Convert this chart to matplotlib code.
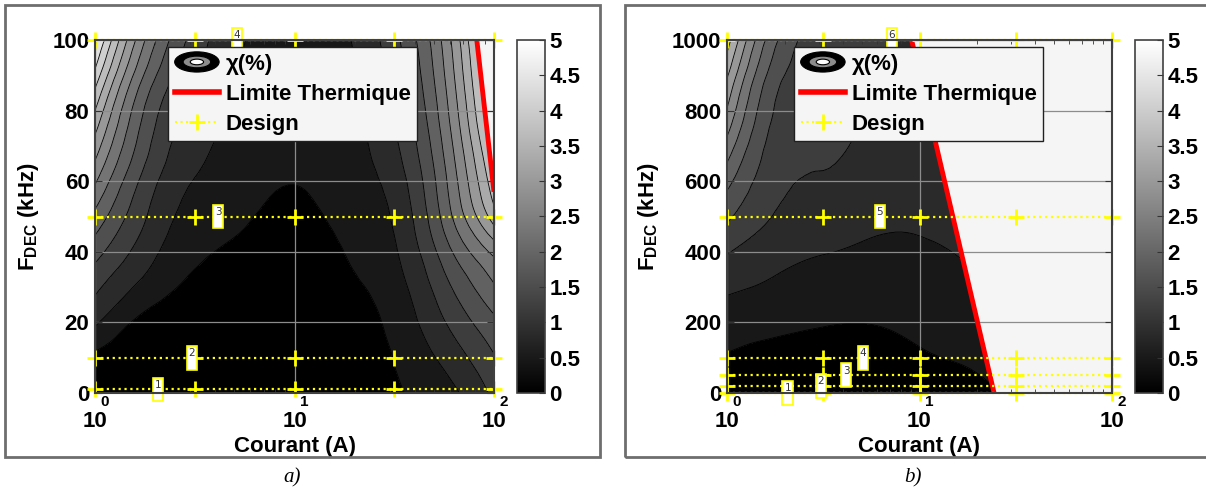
import numpy as np
import matplotlib
matplotlib.use('Agg')
import matplotlib.pyplot as plt
from matplotlib.tri import Triangulation, UniformTriRefiner
from matplotlib.patches import Ellipse, Patch, Rectangle
from matplotlib.lines import Line2D
from matplotlib.legend_handler import HandlerBase
from matplotlib.colors import Normalize
from matplotlib.cm import ScalarMappable
from matplotlib.ticker import LogLocator, NullFormatter

plt.rcParams['font.family'] = ['Liberation Sans', 'DejaVu Sans']
plt.rcParams['mathtext.fontset'] = 'custom'
plt.rcParams['mathtext.rm'] = 'Liberation Sans:bold'
plt.rcParams['mathtext.bf'] = 'Liberation Sans:bold'
plt.rcParams['mathtext.it'] = 'Liberation Sans:bold'

# ---------------- data ----------------
currents = [1, 1.78, 3.16, 5.62, 10, 17.8, 31.6, 56.2, 100]

freq_a = [0, 10, 20, 30, 40, 50, 60, 70, 80, 90, 100]
chi_a = [
    [0.00, 0.00, 0.00, 0.00, 0.00, 0.10, 0.32, 0.57, 1.15],
    [0.28, 0.05, 0.00, 0.00, 0.00, 0.05, 0.37, 0.80, 1.40],
    [0.77, 0.25, 0.10, 0.00, 0.00, 0.15, 0.46, 1.05, 1.70],
    [1.15, 0.60, 0.27, 0.08, 0.05, 0.27, 0.56, 1.30, 2.10],
    [1.57, 0.88, 0.43, 0.25, 0.12, 0.36, 0.67, 1.60, 2.60],
    [2.04, 1.10, 0.57, 0.40, 0.25, 0.45, 0.76, 1.90, 3.40],
    [2.55, 1.30, 0.70, 0.50, 0.37, 0.52, 0.87, 2.05, 3.80],
    [3.06, 1.55, 0.82, 0.57, 0.46, 0.57, 1.00, 2.20, 4.10],
    [3.57, 1.75, 0.96, 0.63, 0.53, 0.61, 1.12, 2.35, 4.40],
    [4.17, 2.10, 1.12, 0.68, 0.58, 0.64, 1.22, 2.48, 4.60],
    [4.75, 2.50, 1.28, 0.72, 0.62, 0.67, 1.32, 2.60, 4.80],
]

freq_b = [0, 100, 200, 300, 400, 500, 600, 700, 800, 900, 1000]
chi_b = [
    [0.10, 0.10, 0.05, 0.02, 0.05, 0.15, 0.50, 0.60, 0.65],
    [0.33, 0.25, 0.20, 0.15, 0.30, 0.42, 0.60, 0.68, 0.72],
    [0.52, 0.45, 0.38, 0.37, 0.45, 0.56, 0.68, 0.74, 0.77],
    [0.78, 0.66, 0.55, 0.52, 0.56, 0.66, 0.75, 0.79, 0.81],
    [1.10, 0.84, 0.73, 0.66, 0.67, 0.74, 0.80, 0.83, 0.85],
    [1.50, 1.05, 0.88, 0.78, 0.76, 0.80, 0.85, 0.87, 0.88],
    [1.90, 1.18, 1.03, 0.88, 0.83, 0.85, 0.88, 0.89, 0.90],
    [2.37, 1.28, 1.13, 0.97, 0.88, 0.88, 0.90, 0.91, 0.92],
    [2.83, 1.40, 1.19, 1.05, 0.93, 0.91, 0.92, 0.93, 0.93],
    [3.26, 1.58, 1.22, 1.09, 0.97, 0.93, 0.94, 0.94, 0.94],
    [3.75, 1.85, 1.25, 1.12, 1.00, 0.95, 0.95, 0.95, 0.95],
]

limit_a_I = [82, 100]
limit_a_F = [100, 57]
limit_b_I = [9.1, 24.4]
limit_b_F = [1000, 0]

design_I = [1, 3.16, 10, 31.6, 100]
design_rows_a = [1, 10, 50, 100]
design_rows_b = [1, 20, 50, 100, 500, 1000]

opt_a_I = [2.07, 3.06, 4.14, 5.15]
opt_a_F = [1, 10, 50, 100]
opt_b_I = [2.07, 3.08, 4.15, 5.09, 6.23, 7.2]
opt_b_F = [1, 20, 50, 100, 500, 1000]

yticks_a = [0, 20, 40, 60, 80, 100]
yticks_b = [0, 200, 400, 600, 800, 1000]
xticks = [1, 10, 100]
cbar_ticks = [0, 0.5, 1, 1.5, 2, 2.5, 3, 3.5, 4, 4.5, 5]

levels = np.linspace(0, 5, 15)

# band colours: grey map, lowest band pure black
_step = levels[1] - levels[0]
band_colors = [plt.cm.gray(0.0)] + [plt.cm.gray((lo + 0.35 * _step) / 5.0)
                                    for lo in levels[1:-1]]

# ---------------- figure ----------------
W, H = 1206, 491
fig = plt.figure(figsize=(W / 100, H / 100), dpi=100)
fig.patch.set_facecolor('white')


def fx(px):
    return px / W


def fy(py):
    return 1 - py / H


class ContourIconHandler(HandlerBase):
    def create_artists(self, legend, orig_handle, xdescent, ydescent,
                       width, height, fontsize, trans):
        cx = width / 2 - xdescent
        cy = height / 2 - ydescent
        arts = []
        for w, h, c in [(1.0, 1.3, 'black'), (0.62, 0.75, '#8c8c8c'),
                        (0.30, 0.36, 'white')]:
            e = Ellipse((cx, cy), width * w, height * h, facecolor=c,
                        edgecolor='black', lw=0.8, transform=trans)
            arts.append(e)
        return arts


def draw_panel(ax_rect, cax_rect, freqs, chi, fmax, yticks, lim_I, lim_F,
               rows, opt_I, opt_F, leg_x):
    ax = fig.add_axes(ax_rect)
    ax.set_xscale('log')
    u = np.log10(np.asarray(currents, float))
    U, Fg = np.meshgrid(u, np.asarray(freqs, float))
    Z = np.asarray(chi, float)
    tri = Triangulation(U.ravel(), Fg.ravel() / fmax * 2.0)
    refiner = UniformTriRefiner(tri)
    tri_r, z_r = refiner.refine_field(Z.ravel(), subdiv=3)
    z_r = np.clip(z_r, 0, 5)
    tri_d = Triangulation(10 ** tri_r.x, tri_r.y * fmax / 2.0, tri_r.triangles)
    ax.tricontourf(tri_d, z_r, levels=levels, colors=band_colors, zorder=1)
    ax.tricontour(tri_d, z_r, levels=levels[1:-1], colors='k',
                  linewidths=0.6, zorder=1.1)
    # region beyond thermal limit
    ax.fill_betweenx(lim_F, lim_I, 100, color='#f5f5f5', lw=0, zorder=1.2)

    ax.set_xlim(1, 100)
    ax.set_ylim(0, fmax)
    ax.set_xticks(xticks)
    ax.set_xticklabels(['10'] * len(xticks), fontsize=16, fontweight='bold')
    ax.xaxis.set_minor_locator(LogLocator(subs=range(2, 10)))
    ax.xaxis.set_minor_formatter(NullFormatter())
    ax.set_yticks(yticks)
    ax.set_yticklabels([str(t) for t in yticks], fontsize=16,
                       fontweight='bold')
    ax.tick_params(which='both', direction='in', top=True, right=True,
                   color='#333333')
    ax.tick_params(axis='x', which='major', pad=13, length=5)
    ax.tick_params(axis='y', which='major', pad=4, length=5)
    ax.tick_params(which='minor', length=3)
    ax.set_axisbelow(False)
    ax.grid(True, which='major', color='#8c8c8c', lw=0.9)
    for s in ax.spines.values():
        s.set_color('#404040')
        s.set_linewidth(1.5)
        s.set_zorder(7)

    for e, t in zip([0, 1, 2], xticks):
        ax.annotate(str(e), xy=(t, 0), xycoords=('data', 'axes fraction'),
                    xytext=(10, -2), textcoords='offset pixels', ha='center',
                    va='top', fontsize=11, fontweight='bold')

    ax.set_xlabel('Courant (A)', fontsize=16, fontweight='bold', labelpad=3)
    ax.set_ylabel(r'$\mathbf{F_{DEC}}$ (kHz)', fontsize=16,
                  fontweight='bold', labelpad=8)

    # thermal limit
    ax.plot(lim_I, lim_F, color='red', lw=3.5, zorder=3,
            solid_capstyle='butt')
    # design grid
    for F in rows:
        ax.plot(design_I, [F] * len(design_I), color='#ffff00', ls=':',
                lw=1.6, marker='+', ms=11, mew=2, zorder=4, clip_on=False)
    # numbered optimal points
    for i, (I, F) in enumerate(zip(opt_I, opt_F), 1):
        ax.text(I, F, f'{i}\n ', ha='center', va='center', fontsize=7.5,
                color='#333333', family='DejaVu Sans', linespacing=0.95,
                bbox=dict(boxstyle='square,pad=0.2', fc='white',
                          ec='#ffff00', lw=1.2),
                zorder=6, clip_on=False)

    h_chi = Patch()
    h_lim = Line2D([], [], color='red', lw=4)
    h_des = Line2D([], [], color='#ffff00', ls=':', lw=1.5, marker='+',
                   ms=12, mew=2)
    leg = ax.legend([h_chi, h_lim, h_des],
                    ['\u03c7(%)', 'Limite Thermique', 'Design'],
                    handler_map={Patch: ContourIconHandler()},
                    loc='upper left', bbox_to_anchor=(leg_x, 0.98),
                    prop={'weight': 'bold', 'size': 16}, frameon=True,
                    fancybox=False, edgecolor='#202020', facecolor='#f5f5f5',
                    framealpha=1, borderpad=0.3, labelspacing=0.4,
                    handlelength=2.0, handletextpad=0.3, borderaxespad=0)
    leg.get_frame().set_linewidth(1.0)
    leg.set_zorder(10)

    cax = fig.add_axes(cax_rect)
    cb = fig.colorbar(ScalarMappable(norm=Normalize(0, 5), cmap='gray'),
                      cax=cax)
    cb.set_ticks(cbar_ticks)
    cb.set_ticklabels([f'{t:g}' for t in cbar_ticks])
    cax.tick_params(direction='in', length=4, labelsize=16, pad=3,
                    color='#333333')
    for lab in cax.get_yticklabels():
        lab.set_fontweight('bold')
    cb.outline.set_edgecolor('#404040')
    cb.outline.set_linewidth(1.2)
    return ax


ax_a = draw_panel([fx(95), fy(393), (494 - 95) / W, 353 / H],
                  [fx(517), fy(393), 28 / W, 353 / H],
                  freq_a, chi_a, 100, yticks_a, limit_a_I, limit_a_F,
                  design_rows_a, opt_a_I, opt_a_F, 0.183)
ax_b = draw_panel([fx(727), fy(393), (1112 - 727) / W, 353 / H],
                  [fx(1135), fy(393), 28 / W, 353 / H],
                  freq_b, chi_b, 1000, yticks_b, limit_b_I, limit_b_F,
                  design_rows_b, opt_b_I, opt_b_F, 0.174)

# panel frames
fig.add_artist(Rectangle((fx(5), fy(457)), 595 / W, 452 / H,
                         transform=fig.transFigure, fill=False,
                         ec='#6e6e6e', lw=2))
fig.add_artist(Rectangle((fx(625), fy(457)), 585 / W, 452 / H,
                         transform=fig.transFigure, fill=False,
                         ec='#6e6e6e', lw=2))

fig.text(fx(292), fy(478), 'a)', ha='center', va='center', fontsize=15,
         style='italic', family='Liberation Serif')
fig.text(fx(913), fy(478), 'b)', ha='center', va='center', fontsize=15,
         style='italic', family='Liberation Serif')

fig.savefig('out.png', dpi=100)
